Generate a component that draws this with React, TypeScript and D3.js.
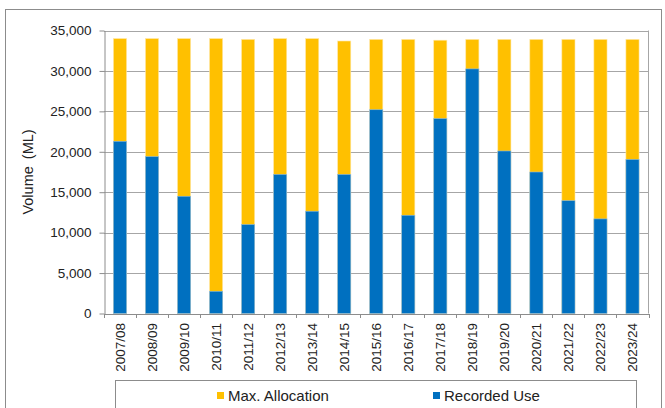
import React, { useEffect, useRef } from 'react';
import * as d3 from 'd3';

const years = [
  '2007/08', '2008/09', '2009/10', '2010/11', '2011/12', '2012/13', '2013/14', '2014/15', '2015/16',
  '2016/17', '2017/18', '2018/19', '2019/20', '2020/21', '2021/22', '2022/23', '2023/24',
];
const maxAllocation = [
  34000, 34000, 34000, 34000, 33900, 34000, 34000, 33700, 33900,
  33900, 33800, 33900, 33900, 33900, 33900, 33900, 33900,
];
const recordedUse = [
  21300, 19400, 14500, 2750, 11000, 17200, 12650, 17200, 25200,
  12150, 24100, 30250, 20100, 17500, 13950, 11700, 19050,
];
const yTicks = [0, 5000, 10000, 15000, 20000, 25000, 30000, 35000];

const W = 665;
const H = 408;
const YELLOW = '#FFC000';
const BLUE = '#0070C0';
const FONT = '"Liberation Sans", Arial, sans-serif';

export default function App() {
  const svgRef = useRef<SVGSVGElement | null>(null);

  useEffect(() => {
    if (!svgRef.current) return;
    const svg = d3.select(svgRef.current);
    svg.selectAll('*').remove();

    const left = 104, right = 648.5, top = 30.5, bottom = 313.5;

    // outer chart border
    svg.append('rect')
      .attr('x', 5.5).attr('y', 9.5)
      .attr('width', 656).attr('height', 420)
      .attr('fill', '#fff').attr('stroke', '#8c8c8c').attr('stroke-width', 1);

    const x = d3.scaleBand<string>().domain(years).range([left, right]).paddingInner(0.59).paddingOuter(0.295);
    const y = d3.scaleLinear().domain([0, 35000]).range([bottom, top]);

    // gridlines
    svg.append('g')
      .selectAll('line')
      .data(yTicks.slice(1))
      .join('line')
      .attr('x1', left).attr('x2', right)
      .attr('y1', d => Math.round(y(d)) + 0.5).attr('y2', d => Math.round(y(d)) + 0.5)
      .attr('stroke', '#a6a6a6').attr('stroke-width', 1);

    // plot area right border
    svg.append('line')
      .attr('x1', right).attr('x2', right).attr('y1', top).attr('y2', bottom)
      .attr('stroke', '#a6a6a6');

    // bars
    const bars = svg.append('g');
    bars.selectAll('rect.alloc')
      .data(years)
      .join('rect')
      .attr('class', 'alloc')
      .attr('x', d => x(d)!)
      .attr('width', x.bandwidth())
      .attr('y', (d, i) => y(maxAllocation[i]))
      .attr('height', (d, i) => bottom - y(maxAllocation[i]))
      .attr('fill', YELLOW)
      .attr('stroke', '#ffe7a6').attr('stroke-width', 0.6);
    bars.selectAll('rect.use')
      .data(years)
      .join('rect')
      .attr('class', 'use')
      .attr('x', d => x(d)!)
      .attr('width', x.bandwidth())
      .attr('y', (d, i) => y(recordedUse[i]))
      .attr('height', (d, i) => bottom - y(recordedUse[i]))
      .attr('fill', BLUE)
      .attr('stroke', '#8fbde0').attr('stroke-width', 0.6);

    // y axis
    const yAxis = svg.append('g').attr('transform', `translate(${left + 0.5},0)`)
      .call(d3.axisLeft(y).tickValues(yTicks).tickSize(5).tickSizeOuter(0).tickFormat(d3.format(',')));
    yAxis.select('.domain').attr('stroke', '#8c8c8c');
    yAxis.selectAll('.tick line').attr('stroke', '#8c8c8c');
    yAxis.selectAll('.tick text')
      .attr('font-family', FONT).attr('font-size', 13.5).attr('fill', '#222').attr('x', -13);

    // x axis
    const xAxis = svg.append('g').attr('transform', `translate(0,${bottom + 0.5})`)
      .call(d3.axisBottom(x).tickSize(0).tickSizeOuter(0));
    xAxis.select('.domain').attr('stroke', '#8c8c8c');
    // boundary ticks between categories
    const step = x.step();
    xAxis.append('g')
      .selectAll('line')
      .data(d3.range(years.length + 1))
      .join('line')
      .attr('x1', i => Math.round(left + i * step) + 0.5)
      .attr('x2', i => Math.round(left + i * step) + 0.5)
      .attr('y1', 0).attr('y2', 4)
      .attr('stroke', '#8c8c8c');
    xAxis.selectAll('.tick text')
      .attr('font-family', FONT).attr('font-size', 13.5).attr('fill', '#222')
      .attr('transform', 'rotate(-90)')
      .attr('text-anchor', 'end')
      .attr('x', -9).attr('y', 0).attr('dy', '0.35em');

    // y axis title
    svg.append('text')
      .attr('transform', `translate(33,${(top + bottom) / 2}) rotate(-90)`)
      .attr('text-anchor', 'middle')
      .attr('font-family', FONT).attr('font-size', 14.5).attr('fill', '#222')
      .attr('word-spacing', 3)
      .text('Volume (ML)');

    // legend
    svg.append('rect')
      .attr('x', 115.5).attr('y', 380.5).attr('width', 521).attr('height', 40)
      .attr('fill', '#fff').attr('stroke', '#8c8c8c');
    const legend = [
      { label: 'Max. Allocation', color: YELLOW, x: 217 },
      { label: 'Recorded Use', color: BLUE, x: 433 },
    ];
    const lg = svg.append('g').selectAll('g').data(legend).join('g')
      .attr('transform', d => `translate(${d.x},0)`);
    lg.append('rect').attr('x', 0).attr('y', 392).attr('width', 7).attr('height', 7).attr('fill', d => d.color);
    lg.append('text').attr('x', 11).attr('y', 395.5).attr('dy', '0.35em')
      .attr('font-family', FONT).attr('font-size', 15).attr('fill', '#222')
      .text(d => d.label);
  }, []);

  return (
    <div style={{ position: 'absolute', left: 0, top: 0 }}>
      <svg ref={svgRef} width={W} height={H} style={{ display: 'block' }} />
    </div>
  );
}
